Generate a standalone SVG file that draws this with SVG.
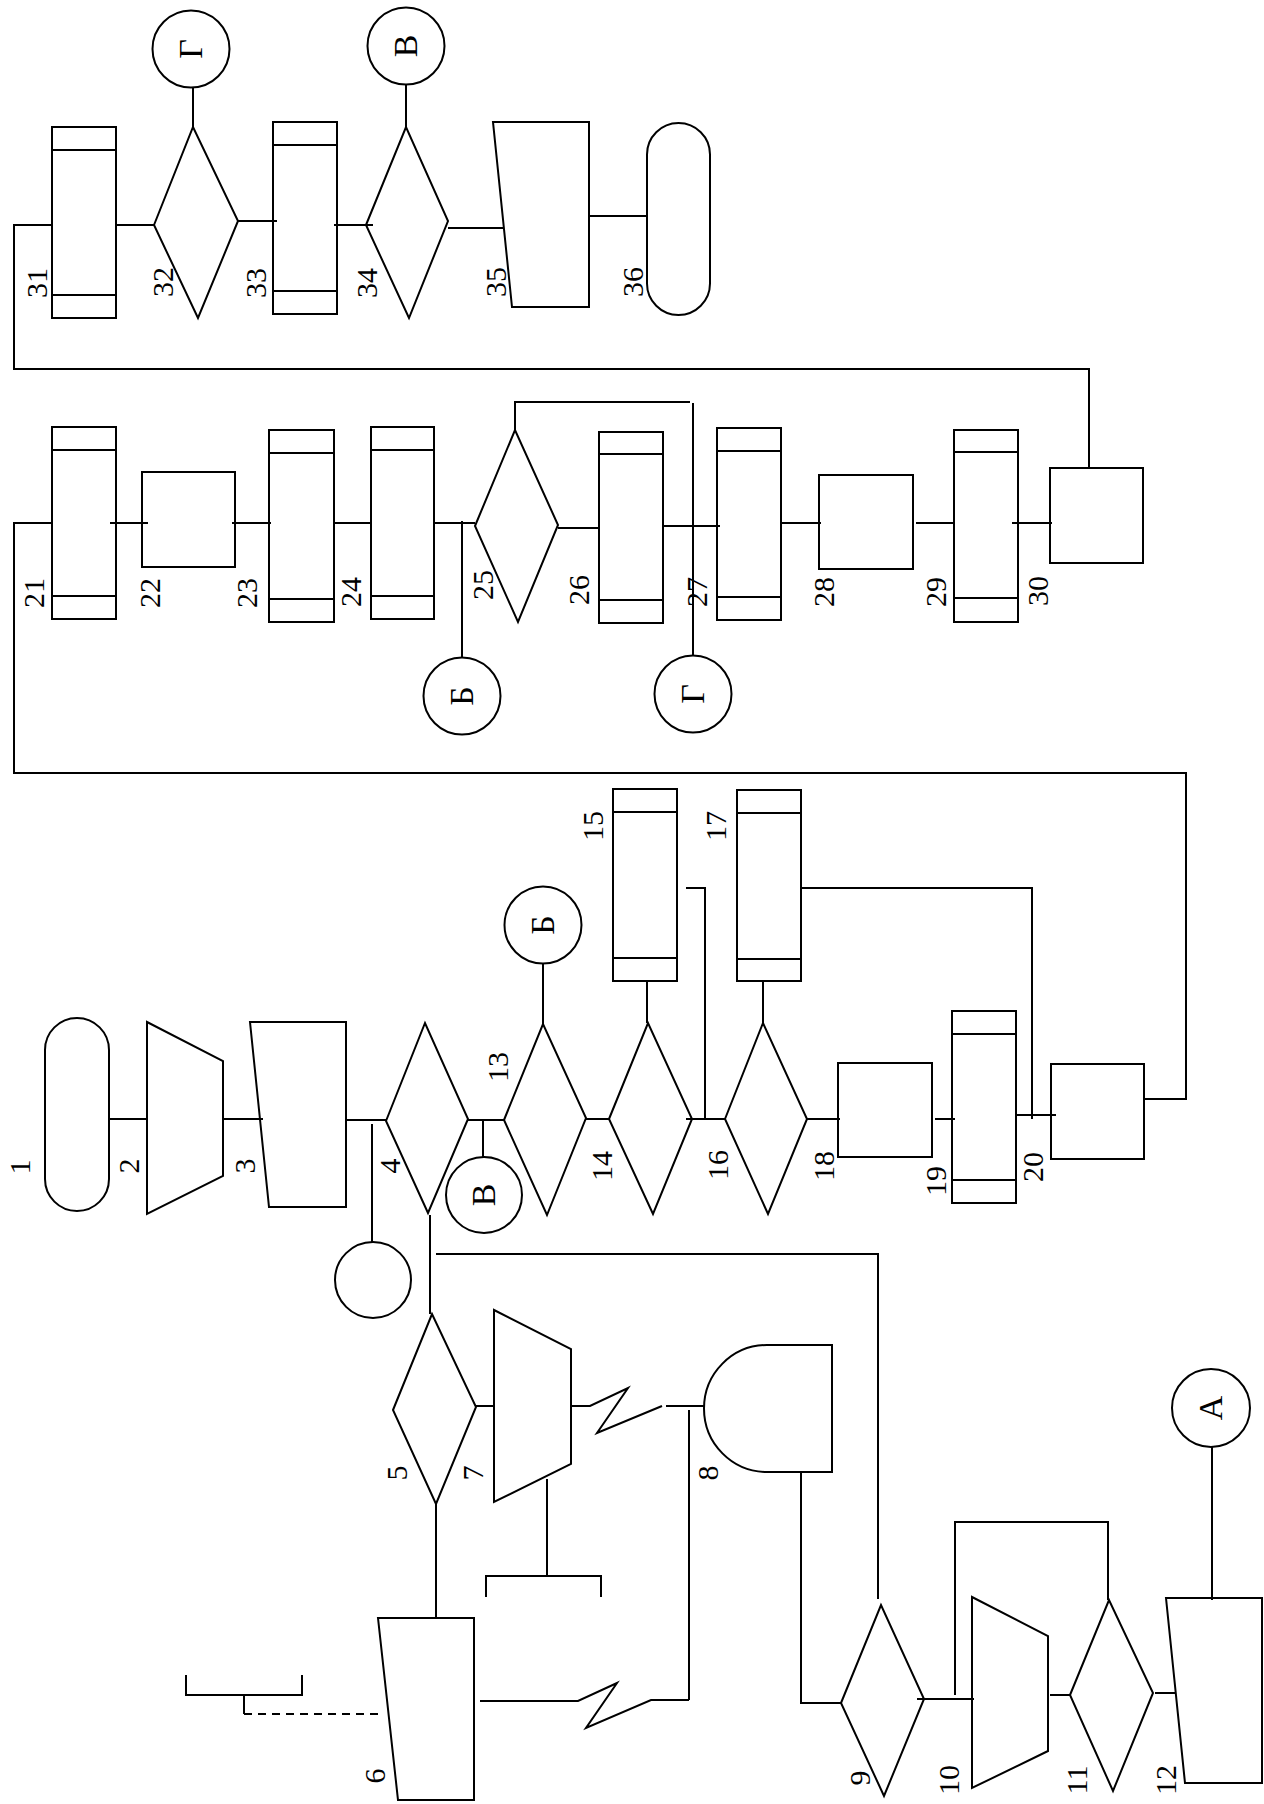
<svg xmlns="http://www.w3.org/2000/svg" width="1264" height="1804" viewBox="0 0 1264 1804">
<style>
.s{fill:#fff;stroke:#000;stroke-width:2}
.l{fill:none;stroke:#000;stroke-width:2}
.d{fill:none;stroke:#000;stroke-width:2;stroke-dasharray:8 6}
.t{font-family:"Liberation Serif","Times New Roman",serif;font-size:30px;fill:#000;text-anchor:middle}
.c{font-family:"Liberation Serif","Times New Roman",serif;font-size:34px;fill:#000;text-anchor:middle}
</style>
<rect width="1264" height="1804" fill="#fff"/>

<!-- Top row -->
<g id="n31"><rect class="s" x="52" y="127" width="64" height="191"/><path class="l" d="M52,150H116M52,295H116"/><text class="t" transform="translate(47,283) rotate(-90)">31</text></g>
<g id="n32"><polygon class="s" points="154,225 193,127 238,221 198,318"/><text class="t" transform="translate(173,282) rotate(-90)">32</text></g>
<g id="n33"><rect class="s" x="273" y="122" width="64" height="192"/><path class="l" d="M273,145H337M273,291H337"/><text class="t" transform="translate(266,283) rotate(-90)">33</text></g>
<g id="n34"><polygon class="s" points="366,225 406,127 448,221 409,318"/><text class="t" transform="translate(377,283) rotate(-90)">34</text></g>
<g id="n35"><polygon class="s" points="493,122 589,122 589,307 512,307"/><text class="t" transform="translate(506,282) rotate(-90)">35</text></g>
<g id="n36"><rect class="s" x="647" y="123" width="63" height="192" rx="31.5" ry="31.5"/><text class="t" transform="translate(643,282) rotate(-90)">36</text></g>
<g id="cG1"><circle class="s" cx="191" cy="49" r="38.5"/><text class="c" transform="translate(202,49) rotate(-90)">Г</text></g>
<g id="cV1"><circle class="s" cx="406" cy="46" r="38.5"/><text class="c" transform="translate(417,46) rotate(-90)">В</text></g>

<!-- Middle row -->
<g id="n21"><rect class="s" x="52" y="427" width="64" height="192"/><path class="l" d="M52,450H116M52,596H116"/><text class="t" transform="translate(44,593) rotate(-90)">21</text></g>
<g id="n22"><rect class="s" x="142" y="472" width="93" height="95"/><text class="t" transform="translate(160,593) rotate(-90)">22</text></g>
<g id="n23"><rect class="s" x="269" y="430" width="65" height="192"/><path class="l" d="M269,453H334M269,599H334"/><text class="t" transform="translate(257,593) rotate(-90)">23</text></g>
<g id="n24"><rect class="s" x="371" y="427" width="63" height="192"/><path class="l" d="M371,450H434M371,596H434"/><text class="t" transform="translate(361,592) rotate(-90)">24</text></g>
<g id="n25"><polygon class="s" points="475,526 515,430 558,525 518,622"/><text class="t" transform="translate(493,585) rotate(-90)">25</text></g>
<g id="n26"><rect class="s" x="599" y="432" width="64" height="191"/><path class="l" d="M599,454H663M599,600H663"/><text class="t" transform="translate(589,590) rotate(-90)">26</text></g>
<g id="n27"><rect class="s" x="717" y="428" width="64" height="192"/><path class="l" d="M717,451H781M717,597H781"/><text class="t" transform="translate(707,592) rotate(-90)">27</text></g>
<g id="n28"><rect class="s" x="819" y="475" width="94" height="94"/><text class="t" transform="translate(834,592) rotate(-90)">28</text></g>
<g id="n29"><rect class="s" x="954" y="430" width="64" height="192"/><path class="l" d="M954,452H1018M954,598H1018"/><text class="t" transform="translate(946,592) rotate(-90)">29</text></g>
<g id="n30"><rect class="s" x="1050" y="468" width="93" height="95"/><text class="t" transform="translate(1048,591) rotate(-90)">30</text></g>
<g id="cB2"><circle class="s" cx="462" cy="696" r="38.5"/><text class="c" transform="translate(473,696) rotate(-90)">Б</text></g>
<g id="cG2"><circle class="s" cx="693" cy="694" r="38.5"/><text class="c" transform="translate(704,694) rotate(-90)">Г</text></g>

<!-- Lower row -->
<g id="n1"><rect class="s" x="45" y="1018" width="64" height="193" rx="32" ry="32"/><text class="t" transform="translate(30,1167) rotate(-90)">1</text></g>
<g id="n2"><polygon class="s" points="147,1022 223,1061 223,1176 147,1214"/><text class="t" transform="translate(139,1166) rotate(-90)">2</text></g>
<g id="n3"><polygon class="s" points="250,1022 346,1022 346,1207 269,1207"/><text class="t" transform="translate(255,1166) rotate(-90)">3</text></g>
<g id="n4"><polygon class="s" points="386,1121 425,1023 468,1119 428,1213"/><text class="t" transform="translate(400,1166) rotate(-90)">4</text></g>
<g id="n13"><polygon class="s" points="504,1120 543,1024 586,1118 547,1215"/><text class="t" transform="translate(508,1067) rotate(-90)">13</text></g>
<g id="n14"><polygon class="s" points="609,1119 648,1023 692,1119 653,1214"/><text class="t" transform="translate(612,1166) rotate(-90)">14</text></g>
<g id="n15"><rect class="s" x="613" y="789" width="64" height="192"/><path class="l" d="M613,812H677M613,958H677"/><text class="t" transform="translate(603,826) rotate(-90)">15</text></g>
<g id="n16"><polygon class="s" points="725,1119 763,1023 807,1119 768,1214"/><text class="t" transform="translate(728,1165) rotate(-90)">16</text></g>
<g id="n17"><rect class="s" x="737" y="790" width="64" height="191"/><path class="l" d="M737,813H801M737,959H801"/><text class="t" transform="translate(726,826) rotate(-90)">17</text></g>
<g id="n18"><rect class="s" x="838" y="1063" width="94" height="94"/><text class="t" transform="translate(834,1166) rotate(-90)">18</text></g>
<g id="n19"><rect class="s" x="952" y="1011" width="64" height="192"/><path class="l" d="M952,1034H1016M952,1180H1016"/><text class="t" transform="translate(946,1181) rotate(-90)">19</text></g>
<g id="n20"><rect class="s" x="1051" y="1064" width="93" height="95"/><text class="t" transform="translate(1043,1167) rotate(-90)">20</text></g>
<g id="cB3"><circle class="s" cx="543" cy="925" r="38.5"/><text class="c" transform="translate(554,925) rotate(-90)">Б</text></g>
<g id="cV3"><circle class="s" cx="484" cy="1195" r="38"/><text class="c" transform="translate(495,1195) rotate(-90)">В</text></g>
<g id="c0"><circle class="s" cx="373" cy="1280" r="38"/></g>

<!-- Bottom part -->
<g id="n5"><polygon class="s" points="393,1410 432,1314 476,1407 436,1504"/><text class="t" transform="translate(407,1473) rotate(-90)">5</text></g>
<g id="n6"><polygon class="s" points="378,1618 474,1618 474,1800 398,1800"/><text class="t" transform="translate(385,1776) rotate(-90)">6</text></g>
<g id="n7"><polygon class="s" points="494,1310 571,1349 571,1464 494,1502"/><text class="t" transform="translate(483,1473) rotate(-90)">7</text></g>
<g id="n8"><path class="s" d="M767,1345H832V1472H767A63,63.5 0 0 1 767,1345Z"/><text class="t" transform="translate(718,1473) rotate(-90)">8</text></g>
<g id="n9"><polygon class="s" points="841,1703 881,1605 924,1699 884,1796"/><text class="t" transform="translate(870,1778) rotate(-90)">9</text></g>
<g id="n10"><polygon class="s" points="972,1597 1048,1636 1048,1751 972,1788"/><text class="t" transform="translate(959,1780) rotate(-90)">10</text></g>
<g id="n11"><polygon class="s" points="1070,1695 1109,1600 1153,1693 1113,1791"/><text class="t" transform="translate(1087,1780) rotate(-90)">11</text></g>
<g id="n12"><polygon class="s" points="1166,1598 1262,1598 1262,1783 1185,1783"/><text class="t" transform="translate(1176,1780) rotate(-90)">12</text></g>
<g id="cA"><circle class="s" cx="1211" cy="1408" r="39"/><text class="c" transform="translate(1222,1408) rotate(-90)">А</text></g>

<g id="connectors">
<path class="l" d="M52,225H14V369H1089V468"/>
<path class="l" d="M115,225H154M193,87V127M238,221H277M334,225H373M406,85V127M448,228H503M589,216H647"/>
<path class="l" d="M1144,1099H1186V773H14V523H52"/>
<path class="l" d="M110,523H148M232,523H271M334,523H372M434,523H475M462,521V657"/>
<path class="l" d="M515,432V402H690M693,403V655"/>
<path class="l" d="M558,528H599M662,526H720M781,523H821M916,523H955M1012,523H1052"/>
<path class="l" d="M109,1119H148M223,1119H263M346,1120H386M372,1124V1242"/>
<path class="l" d="M468,1120H504M483,1120V1157M543,964V1024M586,1119H609"/>
<path class="l" d="M647,981V1023M686,888H705V1119M686,1119H725M763,981V1023M801,888H1032V1119"/>
<path class="l" d="M807,1119H840M935,1119H955M1016,1115H1056"/>
<path class="l" d="M430,1215V1314M436,1254H878V1599"/>
<path class="l" d="M476,1406H494M436,1504V1618"/>
<path class="l" d="M547,1479V1576M486,1597V1576H601V1597"/>
<path class="l" d="M186,1675V1695H302V1675M244,1695V1714"/>
<path class="d" d="M244,1714H379"/>
<path class="l" d="M571,1406H590L628,1388L597,1433L662,1406M666,1406H704"/>
<path class="l" d="M689,1410V1700"/>
<path class="l" d="M480,1701H578L617,1683L586,1728L651,1700H689"/>
<path class="l" d="M801,1472V1703H841"/>
<path class="l" d="M917,1699H974M955,1695V1522H1108V1600M1050,1695H1070M1155,1693H1175M1212,1447V1600"/>
</g>
</svg>
